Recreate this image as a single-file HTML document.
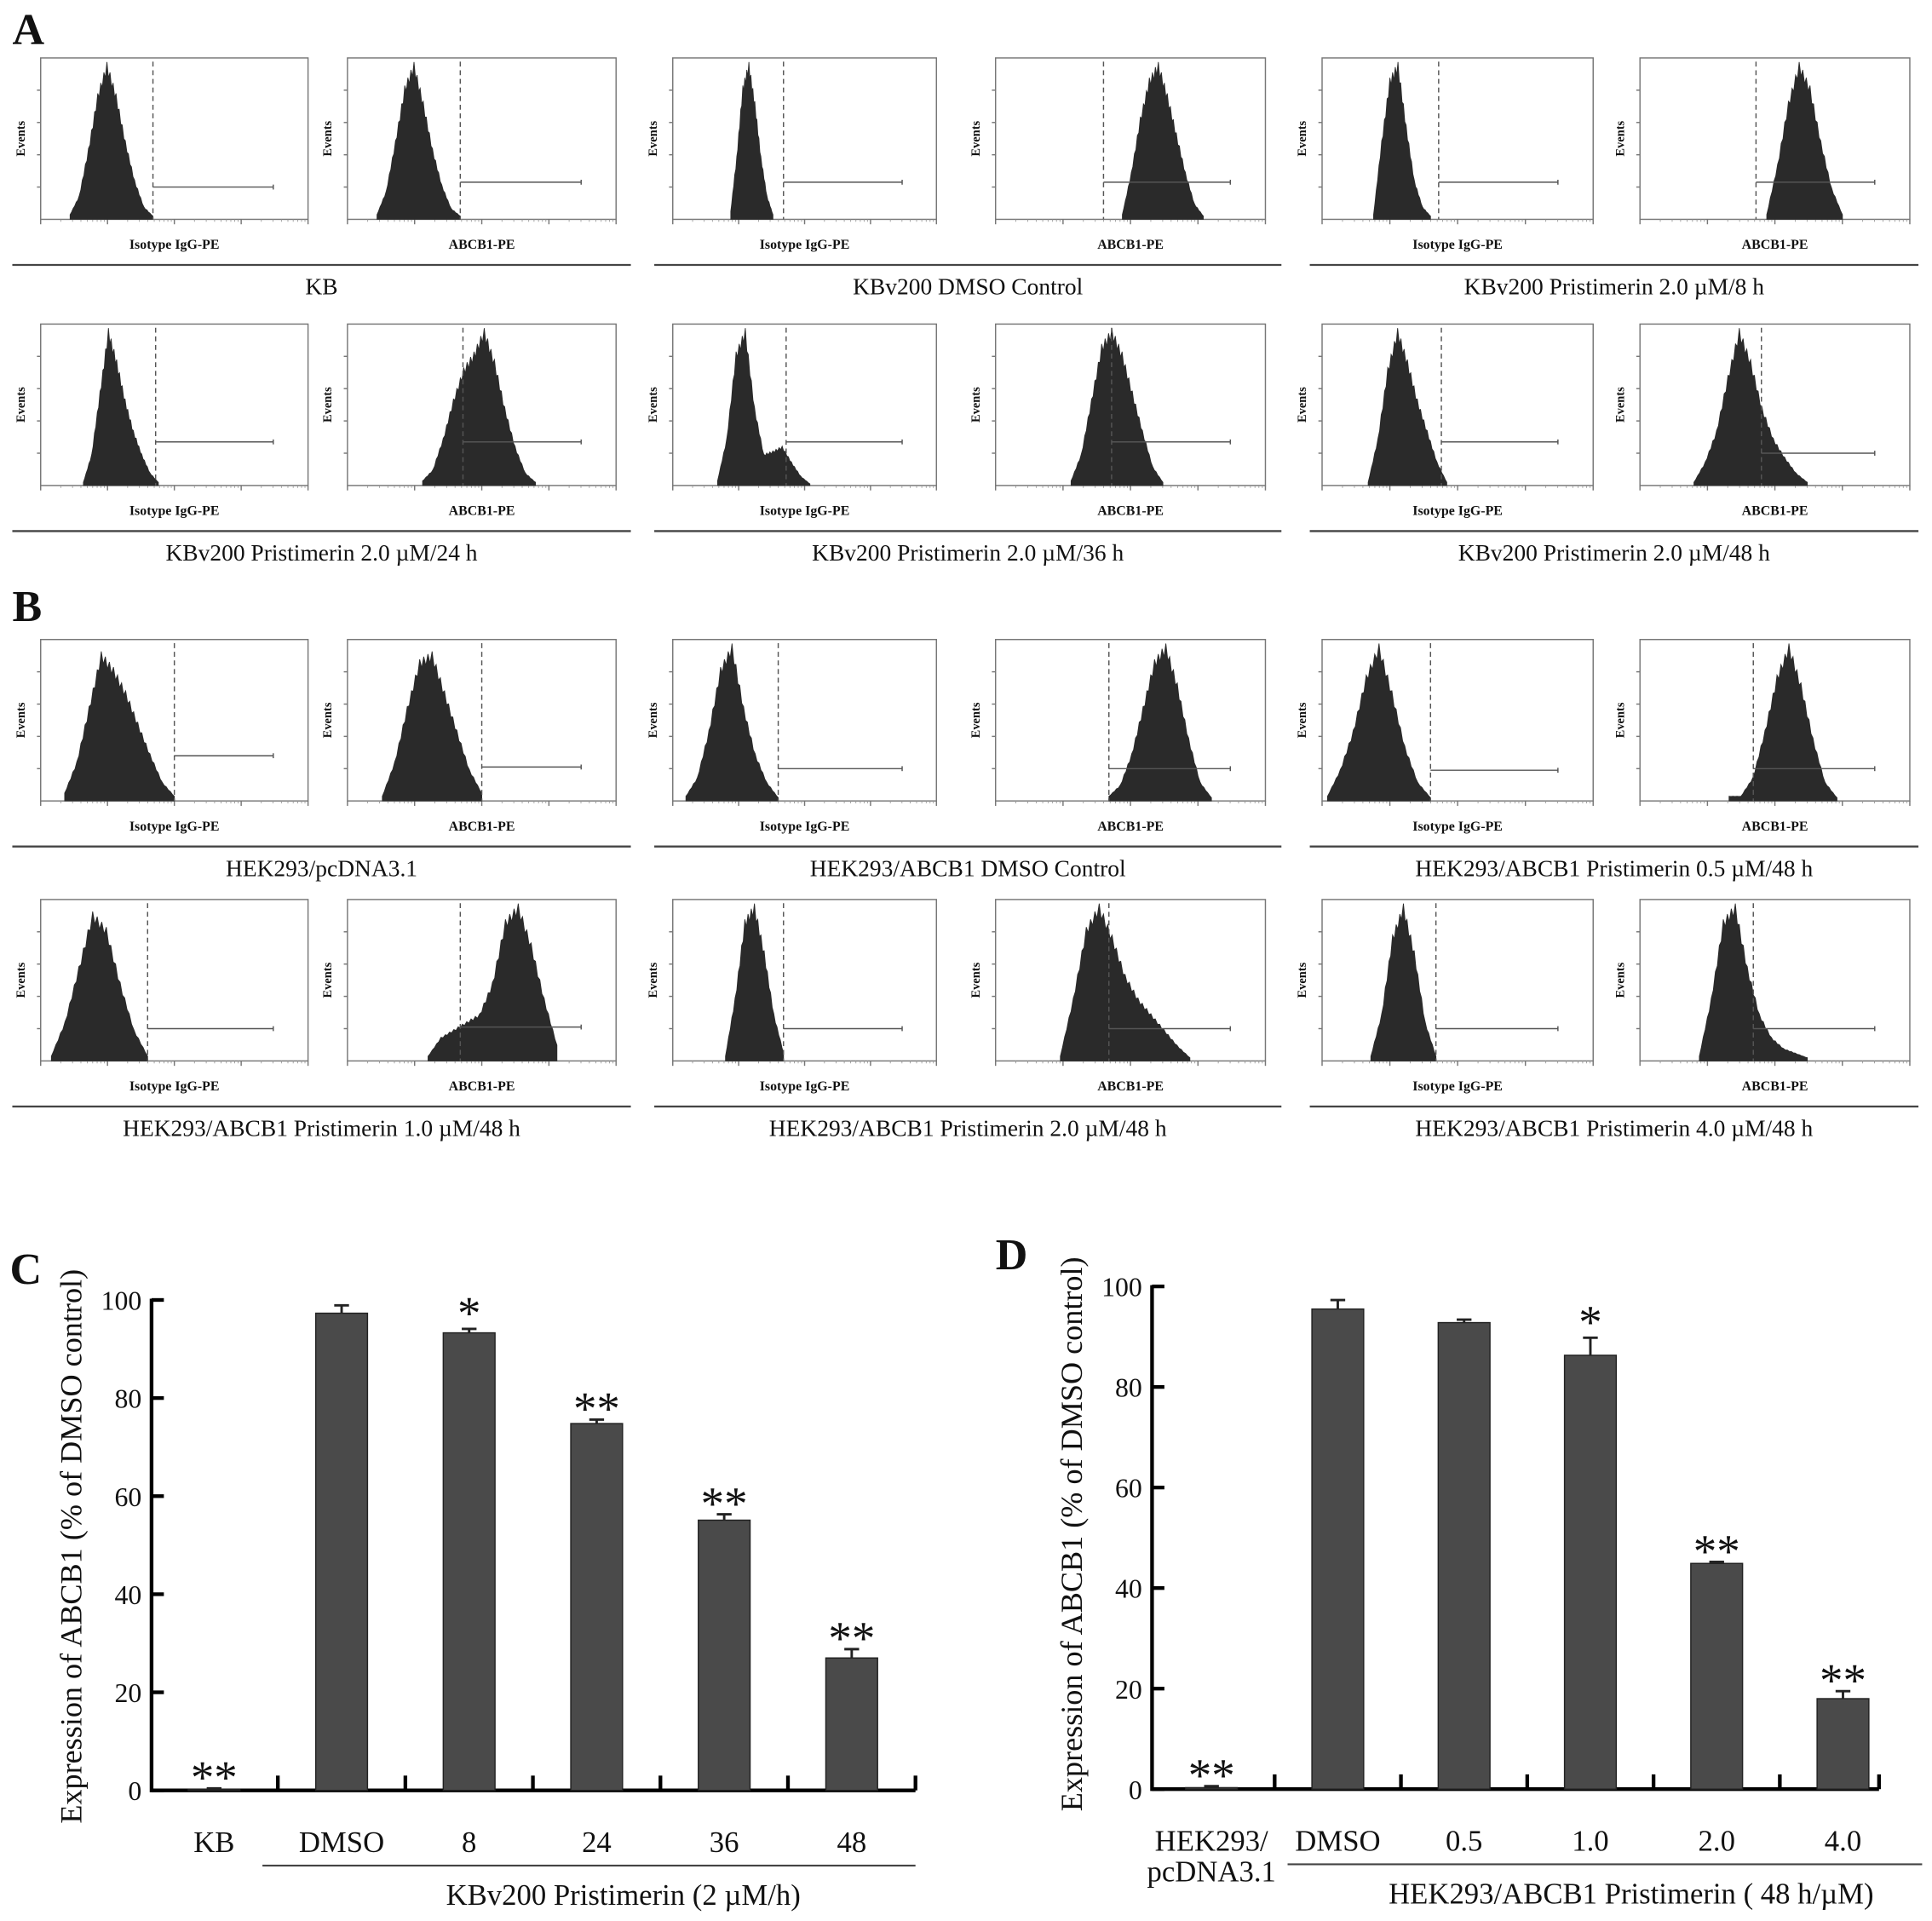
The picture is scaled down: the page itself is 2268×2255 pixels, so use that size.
<!DOCTYPE html>
<html><head><meta charset="utf-8"><style>
html,body{margin:0;padding:0;background:#fff;}
svg{display:block;}
text{font-family:"Liberation Serif",serif;fill:#111;}
</style></head><body>
<svg id="fig" width="2268" height="2255" viewBox="0 0 1568 1559" preserveAspectRatio="none" xmlns="http://www.w3.org/2000/svg">
<rect x="0" y="0" width="1568" height="1559" fill="#fff"/>
<g id="flow"></g>
<g id="chartC"></g>
<g id="chartD"></g>
</svg>
<script>
// ---------- Bar chart data ----------
const cCategories = ["KB","DMSO","8","24","36","48"];
const cValues = [0.2, 97.3, 93.3, 74.8, 55.1, 27.0];
const cErrors = [0.2, 1.6, 0.8, 0.8, 1.2, 1.8];
const cStars = ["**","","*","**","**","**"];
const dCategories = ["HEK293/|pcDNA3.1","DMSO","0.5","1.0","2.0","4.0"];
const dValues = [0.3, 95.5, 92.8, 86.3, 44.9, 18.0];
const dErrors = [0.3, 1.8, 0.6, 3.5, 0.3, 1.5];
const dStars = ["**","","","*","**","**"];
const yTicks = [0, 20, 40, 60, 80, 100];

// ---------- Histogram data (fractions of plot box) ----------
const histStart = [.11,.11,.22,.47,.19,.47, .16,.28,.17,.28,.17,.20, .09,.13,.05,.42,.02,.33, .04,.30,.20,.24,.18,.22];
const histEnd   = [.42,.42,.38,.77,.40,.75, .44,.70,.52,.62,.46,.62, .50,.50,.40,.80,.40,.73, .40,.78,.42,.72,.42,.62];
const histHeights = [
 [0.03,0.15,0.45,0.8,1.0,0.8,0.5,0.25,0.08,0.02],
 [0.03,0.18,0.5,0.85,1.0,0.75,0.45,0.22,0.07,0.02],
 [0.05,0.4,0.85,1.0,0.75,0.4,0.15,0.03],
 [0.03,0.3,0.65,0.9,1.0,0.8,0.55,0.3,0.1,0.02],
 [0.03,0.5,0.9,1.0,0.6,0.25,0.08,0.02],
 [0.03,0.35,0.75,1.0,0.85,0.5,0.2,0.03],
 [0.02,0.2,0.6,1.0,0.8,0.55,0.35,0.2,0.08,0.02],
 [0.03,0.1,0.3,0.55,0.75,0.85,1.0,0.8,0.5,0.25,0.08,0.02],
 [0.03,0.3,0.85,1.0,0.5,0.2,0.22,0.25,0.15,0.06,0.01],
 [0.03,0.2,0.55,0.9,1.0,0.85,0.6,0.35,0.12,0.02],
 [0.02,0.3,0.75,1.0,0.8,0.55,0.35,0.15,0.02],
 [0.02,0.15,0.35,0.7,1.0,0.8,0.5,0.3,0.18,0.08,0.02],
 [0.05,0.25,0.6,0.95,0.85,0.7,0.5,0.3,0.12,0.03],
 [0.03,0.25,0.6,0.9,0.95,0.7,0.45,0.2,0.05],
 [0.03,0.15,0.45,0.85,1.0,0.6,0.3,0.12,0.02],
 [0.03,0.1,0.3,0.6,0.9,1.0,0.75,0.4,0.12,0.02],
 [0.03,0.2,0.45,0.8,1.0,0.7,0.35,0.12,0.02],
 [0.03,0.03,0.15,0.45,0.8,1.0,0.75,0.4,0.12,0.02],
 [0.03,0.25,0.6,0.95,0.85,0.5,0.2,0.03],
 [0.03,0.15,0.2,0.25,0.3,0.5,0.9,1.0,0.75,0.4,0.1],
 [0.03,0.4,0.9,1.0,0.7,0.3,0.05],
 [0.03,0.4,0.85,1.0,0.8,0.55,0.4,0.3,0.2,0.1,0.02],
 [0.03,0.3,0.8,1.0,0.7,0.25,0.03],
 [0.03,0.4,0.9,1.0,0.6,0.3,0.15,0.08,0.05,0.02]
];
const gatePos = [.42,.42,.42,.40,.43,.43, .43,.43,.43,.43,.44,.45, .50,.50,.40,.42,.40,.42, .40,.42,.42,.42,.42,.42];
const markerH = [.20,.23,.23,.23,.23,.23, .27,.27,.27,.27,.27,.20, .28,.21,.20,.20,.19,.20, .20,.21,.20,.20,.20,.20];
const groupTitles = ["KB","KBv200 DMSO Control","KBv200 Pristimerin 2.0 \u00b5M/8 h",
 "KBv200 Pristimerin 2.0 \u00b5M/24 h","KBv200 Pristimerin 2.0 \u00b5M/36 h","KBv200 Pristimerin 2.0 \u00b5M/48 h",
 "HEK293/pcDNA3.1","HEK293/ABCB1 DMSO Control","HEK293/ABCB1 Pristimerin 0.5 \u00b5M/48 h",
 "HEK293/ABCB1 Pristimerin 1.0 \u00b5M/48 h","HEK293/ABCB1 Pristimerin 2.0 \u00b5M/48 h","HEK293/ABCB1 Pristimerin 4.0 \u00b5M/48 h"];

const NS="http://www.w3.org/2000/svg";
function mk(tag, attrs, parent){const e=document.createElementNS(NS,tag);for(const k in attrs)e.setAttribute(k,attrs[k]);parent.appendChild(e);return e;}

// ---------- Flow panels ----------
const flow=document.getElementById('flow');
const rowTops=[47,263,519,730], rowH=131;
const boxXs=[[33,250],[282,500],[546,760],[808,1027],[1073,1293],[1331,1550]];
const groupLines=[[10,512],[531,1040],[1063,1557]];
let t=mk('text',{x:10,y:36,'font-size':36,'font-weight':'bold'},flow);t.textContent='A';

t=mk('text',{x:10,y:504,'font-size':36,'font-weight':'bold'},flow);t.textContent='B';

for(let r=0;r<4;r++){
  const top=rowTops[r], bot=top+rowH;
  for(let c=0;c<6;c++){
    const i=r*6+c, x0=boxXs[c][0], x1=boxXs[c][1], w=x1-x0;
    const g=mk('g',{},flow);
    
    
    const b=mk('rect',{x:x0,y:top,width:w,height:rowH,fill:'none',stroke:'#777','stroke-width':1},g);
    
    for(let k=0;k<4;k++){const ty=top+rowH*(0.2+k*0.2);mk('line',{x1:x0-3,y1:ty,x2:x0,y2:ty,stroke:'#777','stroke-width':1},g);}
    for(let k=0;k<5;k++){const tx=x0+w*k/4;mk('line',{x1:tx,y1:bot,x2:tx,y2:bot+4,stroke:'#777','stroke-width':1},g);
      for(let m=1;m<9;m++){const sx=tx+w/4*Math.log10(m+1);if(k<4)mk('line',{x1:sx,y1:bot,x2:sx,y2:bot+2,stroke:'#999','stroke-width':0.6},g);}}
    const hs=histHeights[i], s=histStart[i], e=histEnd[i];
    let pts=[[x0+w*s,bot]];
    const steps=(hs.length-1)*6;
    for(let k=0;k<=steps;k++){
      const f=k/steps, idx=f*(hs.length-1), lo=Math.floor(idx), hi=Math.min(lo+1,hs.length-1), fr=idx-lo;
      let h=hs[lo]*(1-fr)+hs[hi]*fr;
      if(k%2===1) h*=0.93;
      const px=x0+w*(s+(e-s)*f), py=bot-h*(rowH-2)*0.99;
      pts.push([px,py]);
    }
    pts.push([x0+w*e,bot]);
    const poly=mk('polygon',{points:pts.map(p=>p[0].toFixed(1)+','+p[1].toFixed(1)).join(' '),fill:'#2a2a2a',stroke:'#2a2a2a','stroke-width':0.6},g);
    
    const gx=x0+w*gatePos[i];
    mk('line',{x1:gx,y1:top+3,x2:gx,y2:bot,stroke:'#555','stroke-width':1,'stroke-dasharray':'4,3'},g);
    const my=bot-rowH*markerH[i];
    const ml=mk('line',{x1:gx,y1:my,x2:x0+w*0.87,y2:my,stroke:'#555','stroke-width':1},g);
    
    mk('line',{x1:x0+w*0.87,y1:my-2,x2:x0+w*0.87,y2:my+2,stroke:'#555','stroke-width':1},g);
    const ev=mk('text',{x:0,y:0,'font-size':10,'font-weight':'bold','text-anchor':'middle',transform:`translate(${x0-13},${top+rowH/2}) rotate(-90)`},g);
    ev.textContent='Events';
    const xl=mk('text',{x:x0+w/2,y:bot+24,'font-size':11,'font-weight':'bold','text-anchor':'middle'},g);
    xl.textContent=(c%2===0)?'Isotype IgG-PE':'ABCB1-PE';
    
  }
  for(let gI=0;gI<3;gI++){
    const ly=bot+37;
    const l=mk('line',{x1:groupLines[gI][0],y1:ly,x2:groupLines[gI][1],y2:ly,stroke:'#444','stroke-width':1.6},flow);
    
    const tt=mk('text',{x:(groupLines[gI][0]+groupLines[gI][1])/2,y:ly+24,'font-size':19,'text-anchor':'middle'},flow);
    tt.textContent=groupTitles[r*3+gI];
    
  }
}

// ---------- Bar charts ----------
function barChart(gid, cfg, cats, vals, errs, stars){
  const g=document.getElementById(gid);
  const yS=v=>cfg.y0-(cfg.y0-cfg.y100)*v/100;
  const xS=i=>cfg.ax+cfg.step*(i+0.5);
  let L=mk('text',{x:cfg.letterX,y:cfg.letterY,'font-size':36,'font-weight':'bold'},g);L.textContent=cfg.letter;
  
  const ya=mk('line',{x1:cfg.yx,y1:yS(100)-1,x2:cfg.yx,y2:cfg.y0+1.5,stroke:'#000','stroke-width':3},g);
  
  const xa=mk('line',{x1:cfg.yx,y1:cfg.y0,x2:cfg.axEnd,y2:cfg.y0,stroke:'#000','stroke-width':3},g);
  
  yTicks.forEach(v=>{
    mk('line',{x1:cfg.yx,y1:yS(v),x2:cfg.yx+10,y2:yS(v),stroke:'#000','stroke-width':3},g);
    const tl=mk('text',{x:cfg.yx-8,y:yS(v)+8,'font-size':22,'text-anchor':'end'},g);tl.textContent=v;
    
  });
  for(let i=1;i<cats.length;i++){const tx=cfg.ax+cfg.step*i;mk('line',{x1:tx,y1:cfg.y0,x2:tx,y2:cfg.y0-12,stroke:'#000','stroke-width':3},g);}
  mk('line',{x1:cfg.axEnd,y1:cfg.y0,x2:cfg.axEnd,y2:cfg.y0-12,stroke:'#000','stroke-width':3},g);
  cats.forEach((c,i)=>{
    const cx=xS(i), top=yS(vals[i]), bw=42;
    const bar=mk('rect',{x:cx-bw/2,y:top,width:bw,height:cfg.y0-top,fill:'#4a4a4a',stroke:'#222','stroke-width':1},g);
    
    
    const et=yS(vals[i]+errs[i]);
    mk('line',{x1:cx,y1:top,x2:cx,y2:et,stroke:'#222','stroke-width':2},g);
    mk('line',{x1:cx-6,y1:et,x2:cx+6,y2:et,stroke:'#222','stroke-width':2},g);
    if(stars[i]){const st=mk('text',{x:cx,y:et+(stars[i]==='*'?6:10)-6,'font-size':38,'text-anchor':'middle'},g);st.textContent=stars[i];
      }
    const parts=c.split('|');
    parts.forEach((p,k)=>{const cl=mk('text',{x:cx,y:cfg.y0+50+k*25,'font-size':24,'text-anchor':'middle'},g);cl.textContent=p;
      });
  });
  const ul=mk('line',{x1:cfg.ulX1,y1:cfg.y0+61,x2:cfg.ulX2,y2:cfg.y0+61,stroke:'#444','stroke-width':1.5},g);
  
  const gt=mk('text',{x:cfg.gtX,y:cfg.y0+93,'font-size':24},g);gt.textContent=cfg.groupText;
  
  const yt=mk('text',{x:0,y:0,'font-size':25,'text-anchor':'middle',transform:`translate(${cfg.ytX},${cfg.ytY}) rotate(-90)`},g);
  yt.textContent='Expression of ABCB1  (% of DMSO control)';
  
}
barChart('chartC',{ax:122,yx:123,step:103.5,axEnd:743,y0:1453,y100:1055,letter:'C',letterX:8,letterY:1042,ulX1:213,ulX2:743,gtX:362,groupText:'KBv200   Pristimerin (2 \u00b5M/h)',ytX:66,ytY:1255},
  cCategories,cValues,cErrors,cStars);
barChart('chartD',{ax:932,yx:935,step:102.5,axEnd:1525,y0:1452,y100:1044,letter:'D',letterX:808,letterY:1030,ulX1:1045,ulX2:1560,gtX:1127,groupText:'HEK293/ABCB1  Pristimerin ( 48 h/\u00b5M)',ytX:878,ytY:1245},
  dCategories,dValues,dErrors,dStars);
</script>
</body></html>
